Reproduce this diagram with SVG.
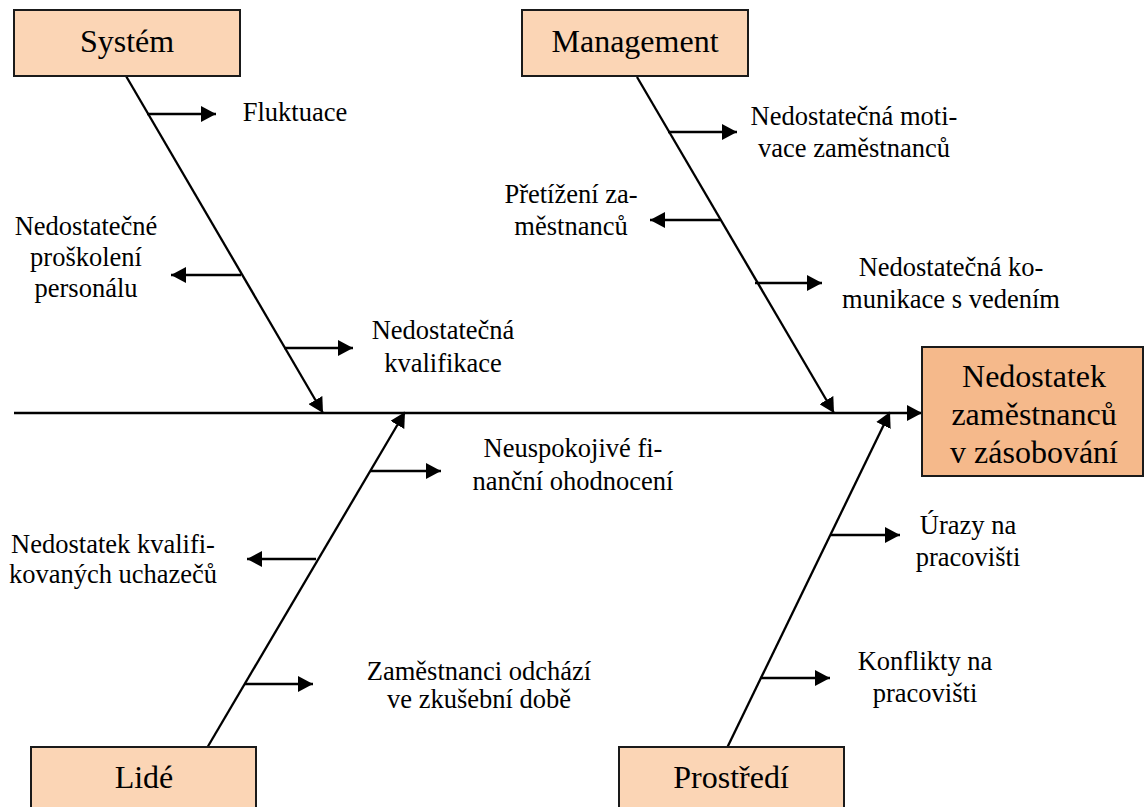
<svg xmlns="http://www.w3.org/2000/svg" width="1145" height="807" viewBox="0 0 1145 807">
<defs>
<marker id="ah" markerUnits="userSpaceOnUse" markerWidth="16" markerHeight="16" refX="15" refY="8" orient="auto">
<path d="M0,0 L15,8 L0,16 z" fill="#000"/>
</marker>
<style>
.box{fill:#FBD5B5;stroke:#1a1a1a;stroke-width:2}
.main{fill:#F5B98B;stroke:#1a1a1a;stroke-width:2}
text{font-family:'Liberation Serif','Times New Roman',serif;fill:#000;text-anchor:middle}
.bt{font-size:32px}
.lb{font-size:26.5px}
.ar{stroke:#000;stroke-width:2.3;fill:none;marker-end:url(#ah)}
</style>
</defs>
<rect width="1145" height="807" fill="#fff"/>
<g id="connectors">
<line class="ar" x1="14" y1="413" x2="922" y2="413"/>
<line class="ar" x1="126" y1="76" x2="323" y2="413"/>
<line class="ar" x1="637" y1="77" x2="834" y2="413"/>
<line class="ar" x1="207" y1="748" x2="405" y2="412"/>
<line class="ar" x1="727" y1="748" x2="890" y2="412"/>
<line class="ar" x1="147" y1="114" x2="216" y2="114"/>
<line class="ar" x1="241" y1="275" x2="171" y2="275"/>
<line class="ar" x1="284" y1="348" x2="353" y2="348"/>
<line class="ar" x1="668" y1="132" x2="737" y2="132"/>
<line class="ar" x1="720" y1="220" x2="650" y2="220"/>
<line class="ar" x1="755" y1="283" x2="822" y2="283"/>
<line class="ar" x1="370" y1="471" x2="441" y2="471"/>
<line class="ar" x1="316" y1="559" x2="247" y2="559"/>
<line class="ar" x1="245" y1="684" x2="313" y2="684"/>
<line class="ar" x1="831" y1="535" x2="900" y2="535"/>
<line class="ar" x1="760" y1="678" x2="830" y2="678"/>
</g>
<g id="effect">
<rect class="main" x="922" y="347" width="221" height="129"/>
<text class="bt" x="1034" y="387">Nedostatek</text>
<text class="bt" x="1034" y="425">zaměstnanců</text>
<text class="bt" x="1034" y="463">v zásobování</text>
</g>
<g id="system">
<rect class="box" x="14" y="10" width="226" height="66"/>
<text class="bt" x="127" y="52">Systém</text>
</g>
<g id="management">
<rect class="box" x="522" y="10" width="226" height="66"/>
<text class="bt" x="635" y="52">Management</text>
</g>
<g id="lide">
<rect class="box" x="31" y="747" width="225" height="70"/>
<text class="bt" x="144" y="788">Lidé</text>
</g>
<g id="prostredi">
<rect class="box" x="619" y="747" width="225" height="70"/>
<text class="bt" x="731" y="788">Prostředí</text>
</g>
<g id="cause-fluktuace"><text class="lb" x="295" y="121">Fluktuace</text></g>
<g id="cause-proskoleni">
<text class="lb" x="86" y="235">Nedostatečné</text>
<text class="lb" x="86" y="266">proškolení</text>
<text class="lb" x="86" y="297">personálu</text>
</g>
<g id="cause-kvalifikace">
<text class="lb" x="443" y="339">Nedostatečná</text>
<text class="lb" x="443" y="372">kvalifikace</text>
</g>
<g id="cause-motivace">
<text class="lb" x="854" y="125">Nedostatečná moti-</text>
<text class="lb" x="854" y="157">vace zaměstnanců</text>
</g>
<g id="cause-pretizeni">
<text class="lb" x="571" y="203">Přetížení za-</text>
<text class="lb" x="571" y="235">městnanců</text>
</g>
<g id="cause-komunikace">
<text class="lb" x="951" y="276">Nedostatečná ko-</text>
<text class="lb" x="951" y="308">munikace s vedením</text>
</g>
<g id="cause-finance">
<text class="lb" x="573" y="457">Neuspokojivé fi-</text>
<text class="lb" x="573" y="490">nanční ohodnocení</text>
</g>
<g id="cause-uchazeci">
<text class="lb" x="113" y="553">Nedostatek kvalifi-</text>
<text class="lb" x="113" y="583">kovaných uchazečů</text>
</g>
<g id="cause-odchazi">
<text class="lb" x="479" y="680">Zaměstnanci odchází</text>
<text class="lb" x="479" y="708">ve zkušební době</text>
</g>
<g id="cause-urazy">
<text class="lb" x="968" y="534">Úrazy na</text>
<text class="lb" x="968" y="566">pracovišti</text>
</g>
<g id="cause-konflikty">
<text class="lb" x="925" y="670">Konflikty na</text>
<text class="lb" x="925" y="702">pracovišti</text>
</g>
</svg>
